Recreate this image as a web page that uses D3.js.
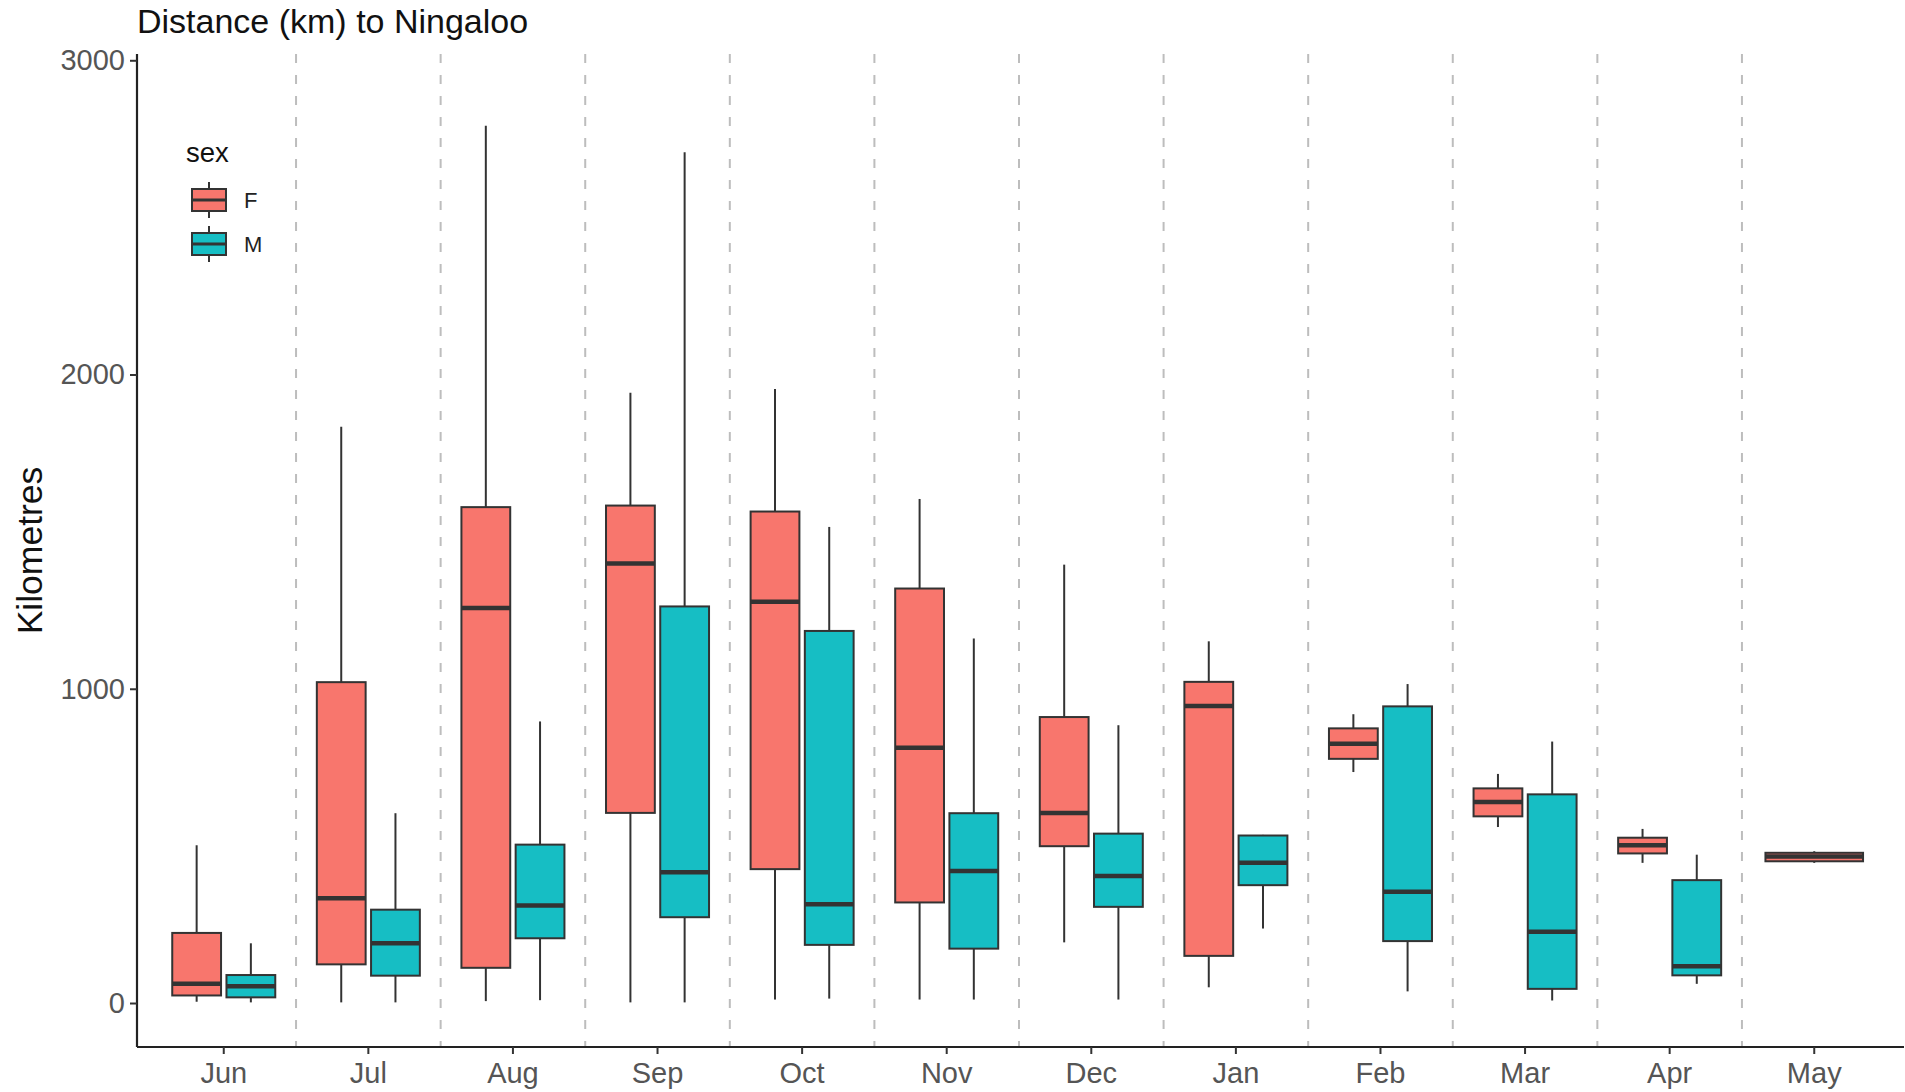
<!DOCTYPE html>
<html>
<head>
<meta charset="utf-8">
<script src="https://cdn.jsdelivr.net/npm/d3@7"></script>
<style>
  html, body { margin: 0; padding: 0; background: #fff; }
  svg { display: block; font-family: "Liberation Sans", Arial, sans-serif; }
</style>
</head>
<body>
<div id="chart"></div>
<script>
// ---- Data ----
const months = ["Jun","Jul","Aug","Sep","Oct","Nov","Dec","Jan","Feb","Mar","Apr","May"];
const sexes = ["F","M"];
const yTicks = [0, 1000, 2000, 3000];

// Female: [lower whisker, Q1, median, Q3, upper whisker]
const femaleLow    = [4,   2,    6,    2,    11,   11,   193,  50,   735, 560, 446, 446];
const femaleQ1     = [24,  123,  112,  605,  426,  320,  499,  150,  777, 594, 476, 451];
const femaleMedian = [61,  333,  1257, 1399, 1277, 812,  605,  945,  825, 640, 502, 466];
const femaleQ3     = [223, 1021, 1578, 1583, 1564, 1319, 910,  1022, 874, 683, 526, 478];
const femaleHigh   = [502, 1834, 2792, 1942, 1954, 1604, 1395, 1151, 919, 729, 554, 483];

// Male (no data in May)
const maleLow    = [2,   2,   9,   2,    14,   11,   11,  237, 37,   8,   61,  null];
const maleQ1     = [18,  87,  206, 273,  185,  173,  306, 375, 197,  45,  88,  null];
const maleMedian = [53,  190, 310, 416,  314,  420,  404, 446, 354,  227, 117, null];
const maleQ3     = [89,  297, 504, 1262, 1184, 604,  539, 533, 944,  664, 391, null];
const maleHigh   = [190, 604, 896, 2707, 1515, 1160, 884, 535, 1015, 832, 472, null];

const fillColors = { F: "#F8766D", M: "#16BEC4" };

// ---- Build box records ----
const boxes = [];
months.forEach((m, i) => {
  const present = [];
  if (femaleMedian[i] != null) present.push({sex: "F", low: femaleLow[i], q1: femaleQ1[i], med: femaleMedian[i], q3: femaleQ3[i], high: femaleHigh[i]});
  if (maleMedian[i] != null) present.push({sex: "M", low: maleLow[i], q1: maleQ1[i], med: maleMedian[i], q3: maleQ3[i], high: maleHigh[i]});
  present.forEach(b => { b.month = m; b.n = present.length; boxes.push(b); });
});

// ---- Layout ----
const W = 1905, H = 1092;
const panel = { left: 137, right: 1901, top: 54, bottom: 1047 };

const svg = d3.select("#chart").append("svg").attr("width", W).attr("height", H);

const x = d3.scaleBand().domain(months).range([panel.left, panel.right]).paddingInner(0).paddingOuter(0.1);
const step = x.step();
const y = d3.scaleLinear().domain([-140, 3020]).range([panel.bottom, panel.top]);

// inner dodge scale
const dodge = d3.scaleBand().domain(sexes).range([-0.375 * step, 0.375 * step]).paddingInner(0.1).paddingOuter(0.05);
const single = d3.scaleBand().domain(["F"]).range([-0.375 * step, 0.375 * step]).paddingInner(0.1).paddingOuter(0.05);

function boxX(b) {
  const s = b.n === 2 ? dodge : single;
  return x(b.month) + step / 2 + s(b.sex);
}
function boxW(b) { return (b.n === 2 ? dodge : single).bandwidth(); }

// dashed separators
const seps = months.slice(0, -1);
svg.append("g").selectAll("line").data(seps).join("line")
  .attr("x1", d => x(d) + step).attr("x2", d => x(d) + step)
  .attr("y1", panel.top).attr("y2", panel.bottom)
  .attr("stroke", "#bdbdbd").attr("stroke-width", 2).attr("stroke-dasharray", "9,12");

// boxes
const g = svg.append("g");
const bg = g.selectAll("g.box").data(boxes).join("g").attr("class", "box");
bg.append("line")
  .attr("x1", b => boxX(b) + boxW(b) / 2).attr("x2", b => boxX(b) + boxW(b) / 2)
  .attr("y1", b => y(b.high)).attr("y2", b => y(b.q3))
  .attr("stroke", "#333").attr("stroke-width", 2);
bg.append("line")
  .attr("x1", b => boxX(b) + boxW(b) / 2).attr("x2", b => boxX(b) + boxW(b) / 2)
  .attr("y1", b => y(b.q1)).attr("y2", b => y(b.low))
  .attr("stroke", "#333").attr("stroke-width", 2);
bg.append("rect")
  .attr("x", b => boxX(b)).attr("width", b => boxW(b))
  .attr("y", b => y(b.q3)).attr("height", b => y(b.q1) - y(b.q3))
  .attr("fill", b => fillColors[b.sex]).attr("stroke", "#333").attr("stroke-width", 2);
bg.append("line")
  .attr("x1", b => boxX(b)).attr("x2", b => boxX(b) + boxW(b))
  .attr("y1", b => y(b.med)).attr("y2", b => y(b.med))
  .attr("stroke", "#333").attr("stroke-width", 4.5);

// axes
const yAxis = d3.axisLeft(y).tickValues(yTicks).tickSize(7).tickPadding(5).tickFormat(d3.format("d"));
const ya = svg.append("g").attr("transform", `translate(${panel.left},0)`).call(yAxis);
ya.select(".domain").attr("d", `M0,${panel.top}V${panel.bottom}`).attr("stroke", "#222").attr("stroke-width", 2.2);
ya.selectAll(".tick line").attr("stroke", "#333").attr("stroke-width", 2);
ya.selectAll(".tick text").attr("font-size", 29).attr("fill", "#555").attr("font-family", "Liberation Sans, Arial, sans-serif");

const xAxis = d3.axisBottom(x).tickSize(7).tickPadding(8);
const xa = svg.append("g").attr("transform", `translate(0,${panel.bottom})`).call(xAxis);
xa.select(".domain").attr("d", `M${panel.left},0H${panel.right + 3}`).attr("stroke", "#222").attr("stroke-width", 2.2);
xa.selectAll(".tick line").attr("stroke", "#333").attr("stroke-width", 2);
xa.selectAll(".tick text").attr("font-size", 29).attr("fill", "#555").attr("font-family", "Liberation Sans, Arial, sans-serif");

// titles
svg.append("text").attr("x", 137).attr("y", 33).attr("font-size", 34).attr("fill", "#111")
  .text("Distance (km) to Ningaloo");
svg.append("text").attr("transform", `translate(42,${(panel.top + panel.bottom) / 2}) rotate(-90)`)
  .attr("text-anchor", "middle").attr("font-size", 35.5).attr("fill", "#111").text("Kilometres");

// legend
const leg = svg.append("g");
leg.append("text").attr("x", 186).attr("y", 162).attr("font-size", 27.5).attr("fill", "#111").text("sex");
const keyY = { F: 200, M: 244 };
sexes.forEach(s => {
  const cy = keyY[s];
  leg.append("line").attr("x1", 209).attr("x2", 209).attr("y1", cy - 18).attr("y2", cy + 18)
    .attr("stroke", "#333").attr("stroke-width", 2);
  leg.append("rect").attr("x", 192).attr("y", cy - 11).attr("width", 34).attr("height", 22)
    .attr("fill", fillColors[s]).attr("stroke", "#333").attr("stroke-width", 2);
  leg.append("line").attr("x1", 192).attr("x2", 226).attr("y1", cy).attr("y2", cy)
    .attr("stroke", "#333").attr("stroke-width", 3);
  leg.append("text").attr("x", 244).attr("y", cy + 8).attr("font-size", 22).attr("fill", "#222").text(s);
});
</script>
</body>
</html>
